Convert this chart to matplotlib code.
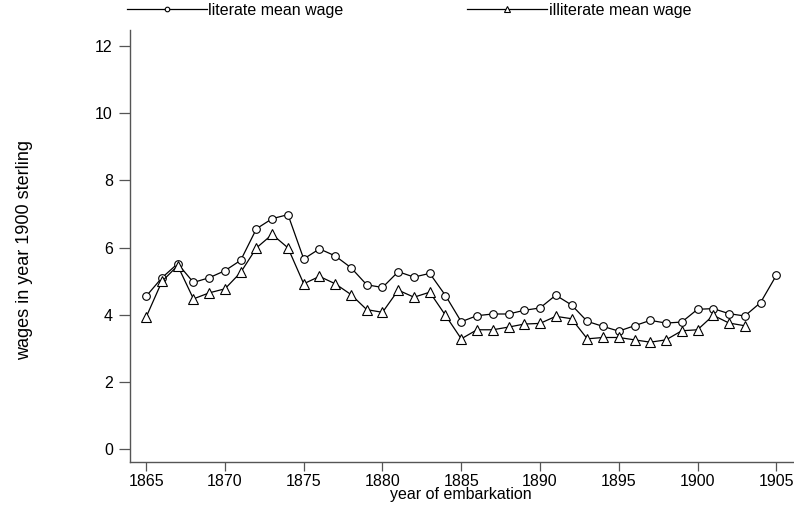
import matplotlib
matplotlib.use("Agg")
import matplotlib.pyplot as plt

plt.rcParams['font.family'] = ['Liberation Sans', 'DejaVu Sans']

years_lit = list(range(1865, 1906))
literate = [4.55, 5.10, 5.52, 4.96, 5.10, 5.31, 5.62, 6.56, 6.86, 6.98,
            5.66, 5.96, 5.75, 5.40, 4.89, 4.81, 5.28, 5.12, 5.23, 4.57,
            3.79, 3.97, 4.02, 4.02, 4.13, 4.20, 4.58, 4.29, 3.80, 3.65,
            3.51, 3.67, 3.83, 3.75, 3.78, 4.16, 4.18, 4.03, 3.96, 4.36,
            5.17]
years_ill = list(range(1865, 1904))
illiterate = [3.93, 4.99, 5.46, 4.47, 4.65, 4.77, 5.26, 5.99, 6.39, 5.99,
              4.92, 5.14, 4.92, 4.60, 4.15, 4.07, 4.73, 4.52, 4.67, 3.98,
              3.28, 3.55, 3.55, 3.63, 3.72, 3.74, 3.95, 3.88, 3.28, 3.32,
              3.32, 3.25, 3.18, 3.25, 3.52, 3.55, 3.98, 3.75, 3.67]
xticks = [1865, 1870, 1875, 1880, 1885, 1890, 1895, 1900, 1905]
yticks = [0, 2, 4, 6, 8, 10, 12]

fig = plt.figure(figsize=(7.94, 5.12), dpi=100)
ax = fig.add_axes([129.5/794, (512-461.7)/512, (793-129.5)/794, (461.7-30)/512])

l1, = ax.plot(years_lit, literate, color='black', lw=0.9, marker='o',
              ms=5.5, mfc='white', mec='black', mew=0.8, label='literate mean wage')
l2, = ax.plot(years_ill, illiterate, color='black', lw=0.9, marker='^',
              ms=6.5, mfc='white', mec='black', mew=0.8, label='illiterate mean wage')

ax.set_xlim(1863.94, 1906.06)
ax.set_ylim(-0.38, 12.48)
ax.set_xticks(xticks)
ax.set_yticks(yticks)
for s in ['top', 'right']:
    ax.spines[s].set_visible(False)
for s in ['left', 'bottom']:
    ax.spines[s].set_color('#555555')
    ax.spines[s].set_linewidth(1.0)
ax.tick_params(axis='both', colors='#555555', labelcolor='black', labelsize=11.5, width=0.9)
ax.tick_params(axis='y', length=8, pad=4)
ax.tick_params(axis='x', length=6.5, pad=2)

ax.set_xlabel('year of embarkation', fontsize=11.5, labelpad=-1)
ax.set_ylabel('wages in year 1900 sterling', fontsize=13)
ax.yaxis.set_label_coords(-0.145, 0.49)

leg = fig.legend(handles=[l1, l2], loc='center left', bbox_to_anchor=(127/794, 1 - 10/512),
                 ncol=2, frameon=False, fontsize=11.5, handlelength=5.0,
                 handletextpad=0.1, columnspacing=7.75, markerscale=0.6, borderpad=0, borderaxespad=0)

fig.savefig('out.png', dpi=100)
